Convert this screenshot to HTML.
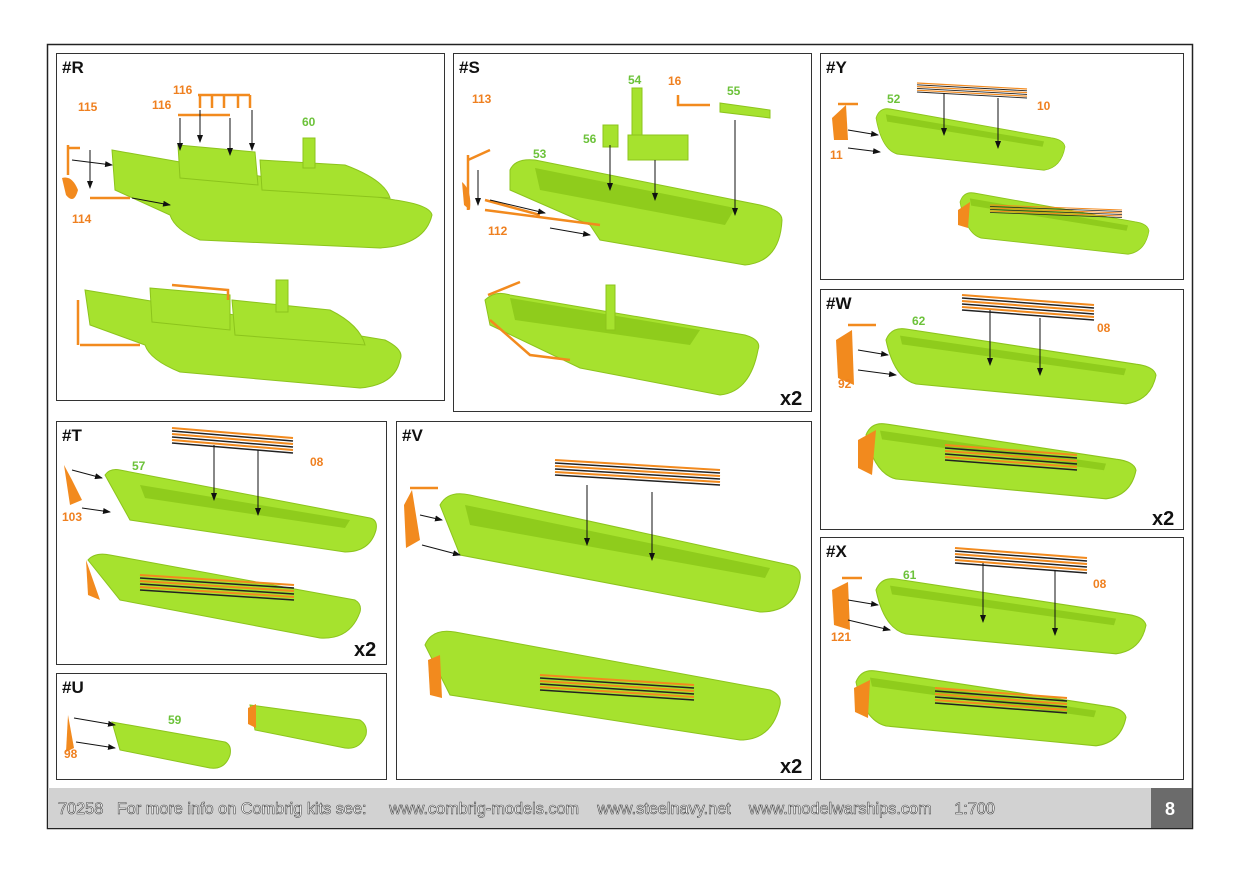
<!DOCTYPE html>
<html><head><meta charset="utf-8"><style>
html,body{margin:0;padding:0;background:#fff;}
svg{display:block;}
text{font-family:"Liberation Sans",Arial,sans-serif;font-weight:bold;}
.h{font-size:17px;fill:#111;}
.g{font-size:12px;fill:#6cc23a;}
.o{font-size:12px;fill:#ef8020;}
.x2{font-size:20px;fill:#111;}
.p{fill:none;stroke:#333;stroke-width:1;}
.b{fill:#a6e22e;stroke:#8cc41c;stroke-width:1;}
.d{fill:#8fcc1c;}
.r{fill:#f28a1e;}
.a{stroke:#111;stroke-width:1;fill:none;marker-end:url(#ar);}
.or{stroke:#f28a1e;stroke-width:2.5;fill:none;}
</style></head><body>
<svg width="1241" height="875" viewBox="0 0 1241 875">
<defs>
<marker id="ar" markerWidth="8" markerHeight="6" refX="7" refY="3" orient="auto"><path d="M0,0 L8,3 L0,6 z" fill="#111"/></marker>
<g id="oars">
<path d="M0,0 L110,10" stroke="#f28a1e" stroke-width="2"/><path d="M0,3 L110,13" stroke="#222" stroke-width="1.5"/>
<path d="M0,6 L110,16" stroke="#f28a1e" stroke-width="2"/><path d="M0,9 L110,19" stroke="#222" stroke-width="1.5"/>
<path d="M0,12 L110,22" stroke="#f28a1e" stroke-width="2"/><path d="M0,15 L110,25" stroke="#222" stroke-width="1.5"/>
</g>
<g id="boat">
<path class="b" d="M0,0 Q5,-12 20,-10 L250,22 Q268,24 270,32 Q265,55 240,58 L30,40 Q8,35 0,0z"/>
<path class="d" d="M14,-4 L240,26 L238,32 L16,4z"/>
</g>
</defs>
<rect width="1241" height="875" fill="#fff"/>
<rect x="47.5" y="44.5" width="1145" height="784" fill="#fff" stroke="#222" stroke-width="1.5"/>
<rect x="48" y="788" width="1103" height="40" fill="#d2d2d2"/>
<rect x="1151" y="788" width="41" height="40" fill="#6b6b6b"/>
<text x="58" y="814" textLength="937" lengthAdjust="spacingAndGlyphs" style="white-space:pre;font-size:17px;fill:#fff;stroke:#444;stroke-width:0.6;font-weight:normal">70258   For more info on Combrig kits see:     www.combrig-models.com    www.steelnavy.net    www.modelwarships.com     1:700</text>
<text x="1165" y="815" style="font-size:18px;fill:#fff">8</text>

<rect class="p" x="56.5" y="53.5" width="388" height="347"/>
<rect class="p" x="453.5" y="53.5" width="358" height="358"/>
<rect class="p" x="820.5" y="53.5" width="363" height="226"/>
<rect class="p" x="820.5" y="289.5" width="363" height="240"/>
<rect class="p" x="56.5" y="421.5" width="330" height="243"/>
<rect class="p" x="396.5" y="421.5" width="415" height="358"/>
<rect class="p" x="820.5" y="537.5" width="363" height="242"/>
<rect class="p" x="56.5" y="673.5" width="330" height="106"/>
<text class="h" x="62" y="73">#R</text><text class="h" x="459" y="73">#S</text>
<text class="h" x="826" y="73">#Y</text><text class="h" x="826" y="309">#W</text>
<text class="h" x="62" y="441">#T</text><text class="h" x="402" y="441">#V</text>
<text class="h" x="826" y="557">#X</text><text class="h" x="62" y="693">#U</text>
<text class="x2" x="780" y="405">x2</text><text class="x2" x="1152" y="525">x2</text>
<text class="x2" x="354" y="656">x2</text><text class="x2" x="780" y="773">x2</text>

<!-- R -->
<path class="b" d="M112,150 L395,200 Q430,205 432,215 Q425,245 380,248 L200,240 Q175,230 170,215 L115,190z"/>
<path class="b" d="M178,145 L255,152 L258,185 L180,178z"/>
<path class="b" d="M260,160 L345,165 Q385,180 390,198 L262,190z"/>
<rect class="b" x="303" y="138" width="12" height="30"/>
<path class="or" d="M68,145 L68,175 M68,148 L80,148"/><path class="r" d="M62,178 Q72,175 78,190 Q74,205 66,195z"/>
<path class="or" d="M90,198 L130,198"/>
<path class="or" d="M198,95 L250,95 M200,95 L200,108 M212,95 L212,108 M224,95 L224,108 M238,95 L238,108 M250,95 L250,108 M178,115 L230,115"/>
<path class="a" d="M72,160 L112,165"/><path class="a" d="M132,198 L170,205"/><path class="a" d="M90,150 L90,188"/>
<path class="a" d="M180,118 L180,150"/><path class="a" d="M200,110 L200,142"/><path class="a" d="M230,118 L230,155"/><path class="a" d="M252,110 L252,150"/>
<text class="o" x="78" y="111">115</text><text class="o" x="72" y="223">114</text>
<text class="o" x="173" y="94">116</text><text class="o" x="152" y="109">116</text><text class="g" x="302" y="126">60</text>
<path class="b" d="M85,290 L385,340 Q405,350 400,360 Q395,385 360,388 L180,372 Q150,360 145,345 L90,325z"/>
<path class="b" d="M150,288 L230,295 L230,330 L152,322z"/><path class="b" d="M232,300 L330,310 Q360,325 365,345 L235,335z"/>
<rect class="b" x="276" y="280" width="12" height="32"/>
<path class="or" d="M78,300 L78,345 M172,285 L228,290 L228,300 M80,345 L140,345"/>

<!-- S -->
<path class="b" d="M510,170 Q515,158 535,160 L760,205 Q782,210 782,220 Q780,262 745,265 L600,240 L590,225 L510,190z"/>
<path class="d" d="M535,168 L735,208 L725,225 L540,190z"/>
<rect class="b" x="632" y="88" width="10" height="50"/><path class="b" d="M628,135 L688,135 L688,160 L628,160z"/>
<rect class="b" x="603" y="125" width="15" height="22"/><path class="b" d="M720,103 L770,110 L770,118 L720,112z"/>
<path class="or" d="M468,155 L468,210 M468,160 L490,150 M485,200 L540,215 M485,210 L600,225"/><path class="r" d="M462,182 Q472,190 470,210 L464,205z"/>
<path class="or" d="M678,95 L678,105 L710,105"/>
<path class="a" d="M478,170 L478,205"/><path class="a" d="M490,200 L545,213"/><path class="a" d="M550,228 L590,235"/>
<path class="a" d="M610,145 L610,190"/><path class="a" d="M655,160 L655,200"/><path class="a" d="M735,120 L735,215"/>
<text class="o" x="472" y="103">113</text><text class="o" x="488" y="235">112</text><text class="g" x="533" y="158">53</text>
<text class="g" x="583" y="143">56</text><text class="g" x="628" y="84">54</text><text class="o" x="668" y="85">16</text><text class="g" x="727" y="95">55</text>
<path class="b" d="M485,300 Q495,290 510,295 L745,335 Q762,340 758,350 Q750,392 720,395 L580,368 L490,325z"/>
<path class="d" d="M510,298 L700,330 L690,345 L515,320z"/><rect class="b" x="606" y="285" width="9" height="45"/>
<path class="or" d="M488,295 L520,282 M490,320 L530,355 L570,360"/>

<!-- Y -->
<use href="#boat" transform="translate(876,118) scale(0.7,0.9)"/>
<use href="#oars" transform="translate(917,83) scale(1,0.6)"/>
<path class="a" d="M944,93 L944,135"/><path class="a" d="M998,98 L998,148"/>
<path class="r" d="M832,118 L846,105 L848,140 L834,140z"/><path class="or" d="M838,104 L858,104"/>
<path class="a" d="M848,130 L878,135"/><path class="a" d="M848,148 L880,152"/>
<text class="g" x="887" y="103">52</text><text class="o" x="1037" y="110">10</text><text class="o" x="830" y="159">11</text>
<use href="#boat" transform="translate(960,202) scale(0.7,0.9)"/><use href="#oars" transform="translate(990,205) scale(1.2,0.5)"/>
<path class="r" d="M958,210 L970,202 L968,228 L958,225z"/>

<!-- W -->
<use href="#boat" transform="translate(886,340) scale(1,1.1)"/>
<use href="#oars" transform="translate(962,295) scale(1.2,1)"/>
<path class="a" d="M990,310 L990,365"/><path class="a" d="M1040,318 L1040,375"/>
<path class="r" d="M836,340 L852,330 L854,385 L838,378z"/><path class="or" d="M848,325 L876,325"/>
<path class="a" d="M858,350 L888,355"/><path class="a" d="M858,370 L896,375"/>
<text class="g" x="912" y="325">62</text><text class="o" x="1097" y="332">08</text><text class="o" x="838" y="388">92</text>
<use href="#boat" transform="translate(866,435) scale(1,1.1)"/><use href="#oars" transform="translate(945,445) scale(1.2,1)"/>
<path class="r" d="M858,440 L876,430 L872,475 L858,468z"/>

<!-- X -->
<use href="#boat" transform="translate(876,590) scale(1,1.1)"/>
<use href="#oars" transform="translate(955,548) scale(1.2,1)"/>
<path class="a" d="M983,563 L983,622"/><path class="a" d="M1055,570 L1055,635"/>
<path class="r" d="M832,590 L848,582 L850,630 L834,625z"/><path class="or" d="M842,578 L862,578"/>
<path class="a" d="M848,600 L878,605"/><path class="a" d="M848,620 L890,630"/>
<text class="g" x="903" y="579">61</text><text class="o" x="1093" y="588">08</text><text class="o" x="831" y="641">121</text>
<use href="#boat" transform="translate(856,682) scale(1,1.1)"/><use href="#oars" transform="translate(935,688) scale(1.2,1)"/>
<path class="r" d="M854,688 L870,680 L868,718 L855,712z"/>

<!-- T -->
<path class="b" d="M105,475 Q110,468 120,470 L370,518 Q378,520 376,530 Q370,552 345,552 L130,520z"/>
<path class="d" d="M140,485 L350,520 L345,528 L145,498z"/>
<use href="#oars" transform="translate(172,428) scale(1.1,1)"/>
<path class="a" d="M214,445 L214,500"/><path class="a" d="M258,450 L258,515"/>
<path class="r" d="M64,465 L72,480 L82,500 L70,505z"/>
<path class="a" d="M72,470 L102,478"/><path class="a" d="M82,508 L110,512"/>
<text class="g" x="132" y="470">57</text><text class="o" x="310" y="466">08</text><text class="o" x="62" y="521">103</text>
<path class="b" d="M88,560 Q95,552 110,555 L355,600 Q362,604 360,612 Q350,640 320,638 L120,600z"/>
<use href="#oars" transform="translate(140,575) scale(1.4,1)"/><path class="r" d="M86,560 L100,600 L88,595z"/>

<!-- V -->
<path class="b" d="M440,505 Q448,490 470,495 L790,565 Q802,568 800,580 Q795,612 760,612 L460,555z"/>
<path class="d" d="M465,505 L770,568 L765,578 L470,525z"/>
<use href="#oars" transform="translate(555,460) scale(1.5,1)"/>
<path class="a" d="M587,485 L587,545"/><path class="a" d="M652,492 L652,560"/>
<path class="r" d="M404,505 L412,490 L420,540 L406,548z"/><path class="or" d="M410,488 L438,488"/>
<path class="a" d="M420,515 L442,520"/><path class="a" d="M422,545 L460,555"/>
<path class="b" d="M425,645 Q432,628 455,632 L770,690 Q782,695 780,705 Q772,740 740,740 L450,695z"/>
<use href="#oars" transform="translate(540,675) scale(1.4,1)"/>
<path class="r" d="M428,660 L440,655 L442,698 L430,695z"/>

<!-- U -->
<path class="b" d="M112,722 L225,742 Q232,745 230,755 Q225,770 210,768 L120,750z"/>
<path class="r" d="M68,715 L74,748 L66,752z"/>
<path class="a" d="M74,718 L115,725"/><path class="a" d="M76,742 L115,748"/>
<text class="g" x="168" y="724">59</text><text class="o" x="64" y="758">98</text>
<path class="b" d="M250,705 L360,720 Q368,725 366,735 Q360,750 345,748 L255,730z"/>
<path class="r" d="M248,708 L256,704 L256,728 L248,724z"/>
</svg>
</body></html>
